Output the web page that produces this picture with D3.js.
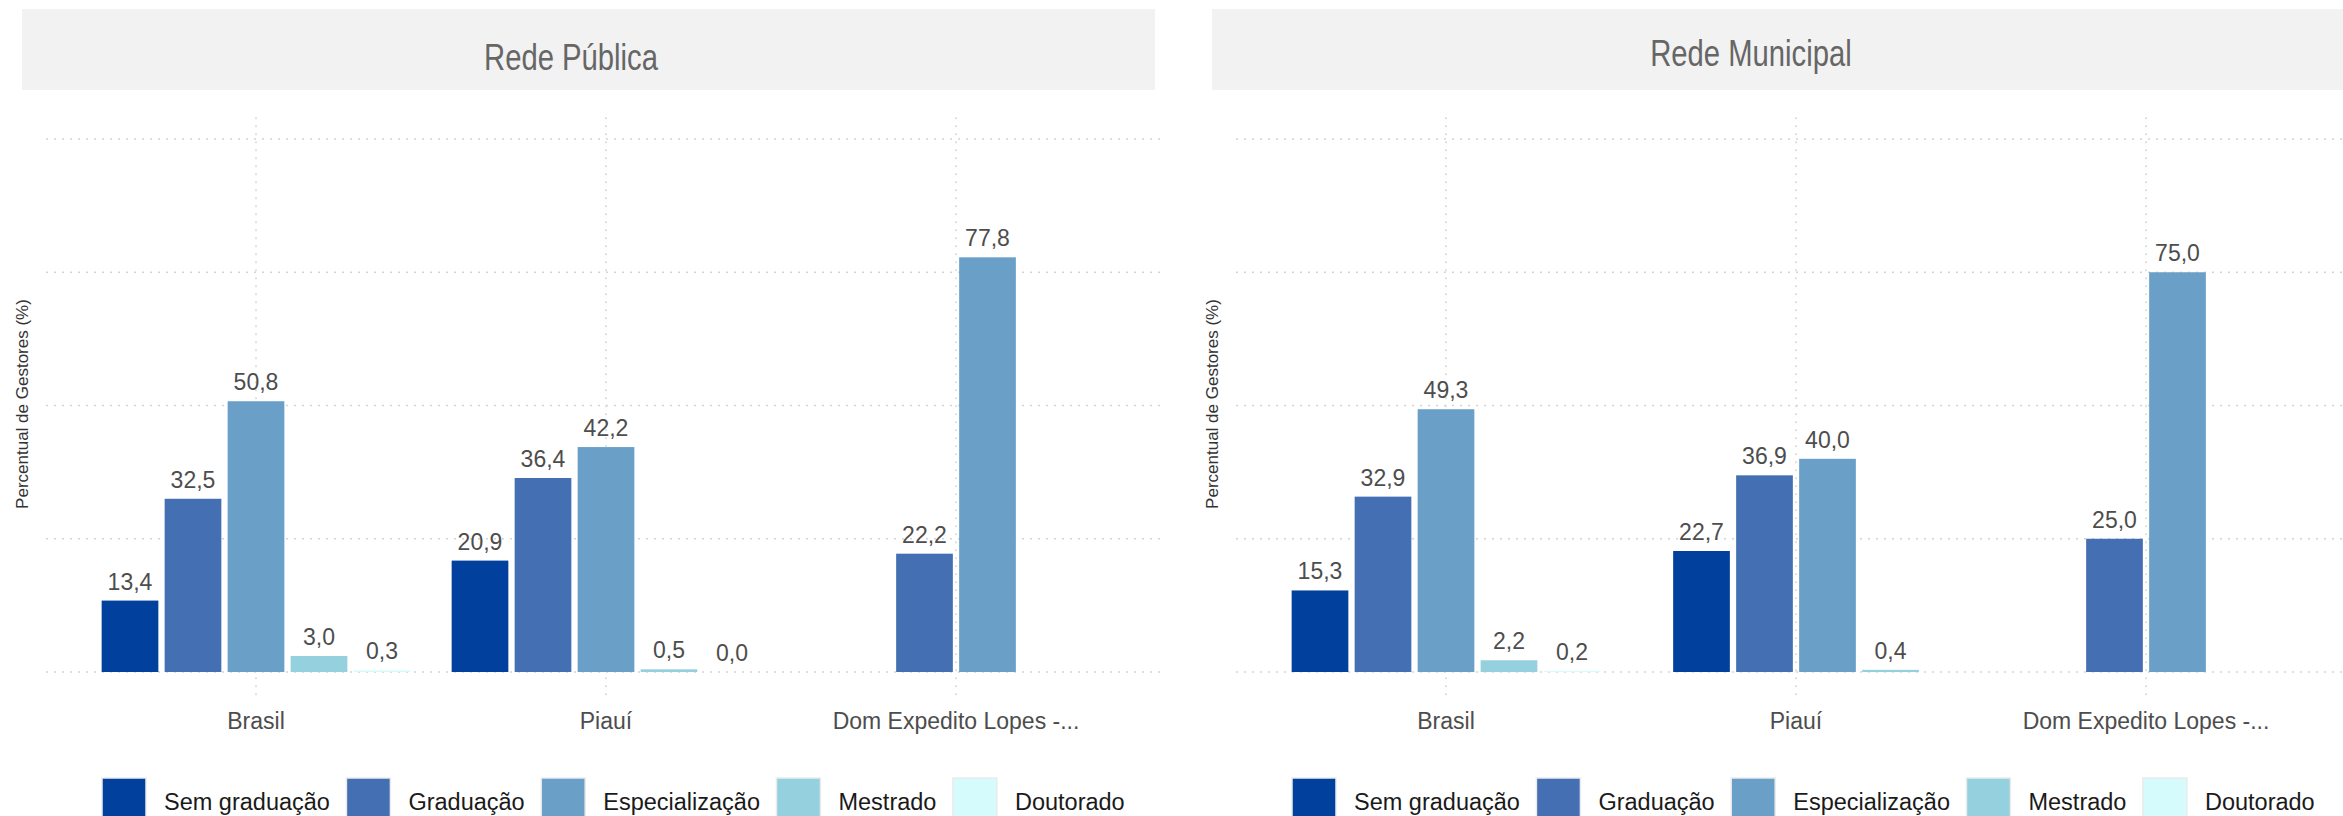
<!DOCTYPE html>
<html>
<head>
<meta charset="utf-8">
<script src="https://cdn.jsdelivr.net/npm/d3@7"></script>
<style>
  html, body { margin: 0; padding: 0; background: #ffffff; }
  svg { display: block; }
  text { font-family: "Liberation Sans", Arial, "Helvetica Neue", Helvetica, sans-serif; }
</style>
</head>
<body>
<svg id="chart" width="2343" height="816"></svg>
<script>
// ---------------- DATA ----------------
const categories = ["Brasil", "Piauí", "Dom Expedito Lopes -..."];
const seriesNames = ["Sem graduação", "Graduação", "Especialização", "Mestrado", "Doutorado"];
const seriesColors = ["#01409c", "#446fb2", "#6aa0c8", "#95d0de", "#d6fbfc"];
const panelTitles = ["Rede Pública", "Rede Municipal"];
const yGridValues = [0, 25, 50, 75, 100];
const yAxisTitle = "Percentual de Gestores (%)";

// Rede Pública (one array per series, in category order; null = no bar)
const publicaSemGraduacao  = [13.4, 20.9, null];
const publicaGraduacao     = [32.5, 36.4, 22.2];
const publicaEspecializacao= [50.8, 42.2, 77.8];
const publicaMestrado      = [3.0, 0.5, null];
const publicaDoutorado     = [0.3, 0.0, null];

// Rede Municipal
const municipalSemGraduacao  = [15.3, 22.7, null];
const municipalGraduacao     = [32.9, 36.9, 25.0];
const municipalEspecializacao= [49.3, 40.0, 75.0];
const municipalMestrado      = [2.2, 0.4, null];
const municipalDoutorado     = [0.2, null, null];

const panelSeries = [
  [publicaSemGraduacao, publicaGraduacao, publicaEspecializacao, publicaMestrado, publicaDoutorado],
  [municipalSemGraduacao, municipalGraduacao, municipalEspecializacao, municipalMestrado, municipalDoutorado]
];

// ---------------- LAYOUT ----------------
const svg = d3.select("#chart");
const chartOffset = 1190;
const plotLeft = 46, plotRight = 1166;
const color = d3.scaleOrdinal().domain(seriesNames).range(seriesColors);
const y = d3.scaleLinear().domain([0, 100]).range([672, 139]);
const x0 = d3.scaleBand().domain(categories).range([plotLeft, plotRight]).paddingInner(0).paddingOuter(0.1);
const slotStep = x0.step() * 0.18;
const fmt = v => d3.format(".1f")(v).replace(".", ",");
const titleBaselines = [70, 66];
const titleCenters = [571, 561];

panelTitles.forEach((title, p) => {
  const g = svg.append("g").attr("transform", `translate(${p * chartOffset},0)`);

  // strip
  g.append("rect").attr("x", 22).attr("y", 9).attr("width", 1133).attr("height", 81).attr("fill", "#f2f2f2");
  const t = g.append("text")
    .attr("x", titleCenters[p]).attr("y", titleBaselines[p])
    .attr("text-anchor", "middle")
    .attr("font-size", 37).attr("fill", "#666666")
    .text(title);
  const w = t.node().getComputedTextLength();
  t.attr("textLength", w * 0.79).attr("lengthAdjust", "spacingAndGlyphs");

  // grid
  const grid = g.append("g").attr("stroke", "#d4d4d4").attr("stroke-width", 1.4).attr("stroke-dasharray", "2,6");
  grid.selectAll("line.h").data(yGridValues).join("line")
    .attr("class", "h")
    .attr("x1", plotLeft).attr("x2", plotRight)
    .attr("y1", d => y(d)).attr("y2", d => y(d));
  grid.selectAll("line.v").data(categories).join("line")
    .attr("class", "v")
    .attr("x1", d => x0(d) + x0.bandwidth() / 2).attr("x2", d => x0(d) + x0.bandwidth() / 2)
    .attr("y1", y(104.1)).attr("y2", y(-4.9));

  // bars
  const rows = [];
  categories.forEach((cat, ci) => {
    const present = seriesNames.filter((s, si) => panelSeries[p][si][ci] !== null);
    const c = x0(cat) + x0.bandwidth() / 2;
    const n = present.length;
    const x1 = d3.scaleBand().domain(present)
      .range([c - n * slotStep / 2, c + n * slotStep / 2])
      .paddingInner(0.1).paddingOuter(0.05);
    present.forEach(s => {
      const si = seriesNames.indexOf(s);
      rows.push({ cat, s, v: panelSeries[p][si][ci], x: x1(s), w: x1.bandwidth() });
    });
  });

  g.append("g").selectAll("rect").data(rows).join("rect")
    .attr("x", d => d.x).attr("width", d => d.w)
    .attr("y", d => y(d.v)).attr("height", d => y(0) - y(d.v))
    .attr("fill", d => color(d.s));

  g.append("g").selectAll("text").data(rows).join("text")
    .attr("x", d => d.x + d.w / 2).attr("y", d => y(d.v) - 11)
    .attr("text-anchor", "middle").attr("font-size", 23).attr("fill", "#4d4d4d")
    .text(d => fmt(d.v));

  // x axis labels
  g.append("g").selectAll("text").data(categories).join("text")
    .attr("x", d => x0(d) + x0.bandwidth() / 2).attr("y", 729)
    .attr("text-anchor", "middle").attr("font-size", 23).attr("fill", "#4d4d4d")
    .text(d => d);

  // y axis title
  g.append("text")
    .attr("transform", "translate(28,404) rotate(-90)")
    .attr("text-anchor", "middle").attr("font-size", 17).attr("fill", "#333333")
    .text(yAxisTitle);

  // legend
  const leg = g.append("g");
  let lx = 102;
  seriesNames.forEach(s => {
    leg.append("rect").attr("x", lx).attr("y", 778).attr("width", 44).attr("height", 44)
      .attr("fill", color(s)).attr("stroke", "#ebebeb").attr("stroke-width", 1.5);
    const tx = leg.append("text").attr("x", lx + 62).attr("y", 810)
      .attr("font-size", 23.5).attr("fill", "#1a1a1a").text(s);
    lx = lx + 62 + tx.node().getComputedTextLength() + 16.5;
  });
});
</script>
</body>
</html>
